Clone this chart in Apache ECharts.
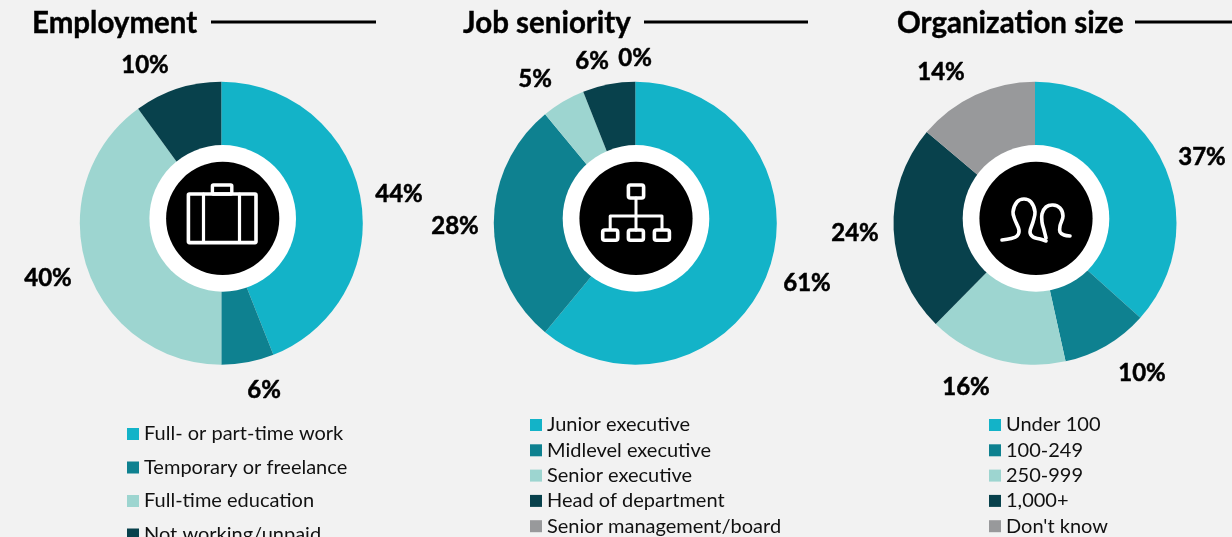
<!DOCTYPE html>
<html><head><meta charset="utf-8">
<style>html,body{margin:0;padding:0;background:#f2f2f2;overflow:hidden}#c{width:1232px;height:537px}</style>
<script src="https://cdn.jsdelivr.net/npm/echarts@6/dist/echarts.min.js"></script>
</head><body><div id="c"></div>
<script>
const employmentNames = ['Full- or part-time work','Temporary or freelance','Full-time education','Not working/unpaid'];
const employmentValues = [44,6,40,10];
const seniorityNames = ['Junior executive','Midlevel executive','Senior executive','Head of department','Senior management/board'];
const seniorityValues = [61,28,5,6,0];
const sizeNames = ['Under 100','100-249','250-999','1,000+',"Don't know"];
const sizeValues = [37,10,16,24,14];
const titles = ['Employment','Job seniority','Organization size'];

const palette = ['#13b3c8','#0e8190','#9dd5d0','#08414c','#98999b'];
const FONT = 'Lato, "Open Sans", sans-serif';
const INK = '#000';
const BG = '#f2f2f2';

const panels = [
  {names:employmentNames, values:employmentValues, cx:221.3, icx:222.7, titleX:32, lineX:[211,376], legendX:127, legendY:424, gap:33.5,
   labels:[[399,194],[264,390],[48,278],[145,65]]},
  {names:seniorityNames, values:seniorityValues, cx:635.3, icx:636, titleX:463, lineX:[644,808], legendX:530, legendY:415, gap:25.3,
   labels:[[807,283],[455,226],[535,79],[592,61],[635,58]]},
  {names:sizeNames, values:sizeValues, cx:1035, icx:1036, titleX:897, lineX:[1135,1232], legendX:989, legendY:415, gap:25.3,
   labels:[[1202,157],[1142,373],[966,387],[855,233],[941,72]]}
];

const series = panels.map(p => ({
  type:'pie', center:[p.cx,223.2], radius:[0,141.5], startAngle:90, clockwise:true,
  avoidLabelOverlap:false, silent:true, animation:false, minAngle:0,
  itemStyle:{borderWidth:0},
  label:{show:true, position:'outside', formatter:'{c}%', fontFamily:FONT, fontWeight:'bold', fontSize:24, color:INK, textBorderColor:INK, textBorderWidth:0.5},
  labelLine:{show:false},
  labelLayout:params => {
    const c = p.labels[params.dataIndex];
    return {x:c[0], y:c[1], align:'center', verticalAlign:'middle'};
  },
  data:p.names.map((n,i)=>({name:n, value:p.values[i], itemStyle:{color:palette[i]}}))
}));

const legends = panels.map(p => ({
  orient:'vertical', left:p.legendX, top:p.legendY, height:200, padding:0, data:p.names,
  icon:'rect', itemWidth:12, itemHeight:12, itemGap:p.gap-20, selectedMode:false,
  textStyle:{fontFamily:FONT, fontSize:20, color:'#111', lineHeight:20, height:20, padding:[0,0,0,0]}
}));

const titleOpts = panels.map((p,i)=>({
  text:titles[i], left:p.titleX, top:6, padding:0,
  textStyle:{fontFamily:FONT, fontWeight:'bold', fontSize:29.5, color:INK, lineHeight:34, textBorderColor:INK, textBorderWidth:0.4}
}));

const line = (pts, w, extra) => ({type:'polyline', z:20, silent:true, shape:Object.assign({points:pts},extra||{}),
  style:{stroke:'#fff', lineWidth:w, fill:null, lineCap:'round', lineJoin:'round'}});
const box = (x,y,w,h,sw,r) => ({type:'rect', z:20, silent:true, shape:{x,y,width:w,height:h,r:r||1},
  style:{stroke:'#fff', lineWidth:sw, fill:'transparent'}});

const gfx = [];
panels.forEach(p=>{
  gfx.push({type:'line', z:5, silent:true, shape:{x1:p.lineX[0],y1:22,x2:p.lineX[1],y2:22}, style:{stroke:'#000',lineWidth:3}});
  gfx.push({type:'circle', z:10, silent:true, shape:{cx:p.icx,cy:218.4,r:73.3}, style:{fill:'#fff'}});
  gfx.push({type:'circle', z:11, silent:true, shape:{cx:p.icx,cy:218.4,r:56.6}, style:{fill:'#000'}});
});
// briefcase icon
gfx.push(box(188.4,194,67.6,48.6,3.6,1));
gfx.push(box(212.4,185,19.4,9,3.4,1));
gfx.push(line([[203.5,194],[203.5,242]],3.2));
gfx.push(line([[239.5,194],[239.5,242]],3.2));
// hierarchy icon
gfx.push(box(628.4,185,15.2,13,3.6,2));
[602.7,628.4,654.4].forEach(x=>gfx.push(box(x,230,15,10.3,3.6,2)));
gfx.push(line([[636,198],[636,230]],3));
gfx.push(line([[610.2,229],[610.2,216],[662,216],[662,229]],3));
// people icon
gfx.push(line([[1002,240],[1011,238.5],[1017,236],[1019,230],[1015,220],[1013,212],[1017,202],[1024,199],[1031,202],[1035,212],[1033,222],[1030,232],[1033,237],[1040,239],[1046,241]],3.6,{smooth:0.35}));
gfx.push(line([[1046,238],[1044,230],[1042,222],[1042,214],[1046,207],[1053,205],[1060,208],[1063,216],[1060,226],[1060,232],[1064,235],[1070,236]],3.6,{smooth:0.35}));

const chart = echarts.init(document.getElementById('c'),null,{renderer:'canvas'});
chart.setOption({backgroundColor:BG, animation:false, tooltip:{show:false},
  title:titleOpts, legend:legends, series, graphic:{elements:gfx}});
</script></body></html>
